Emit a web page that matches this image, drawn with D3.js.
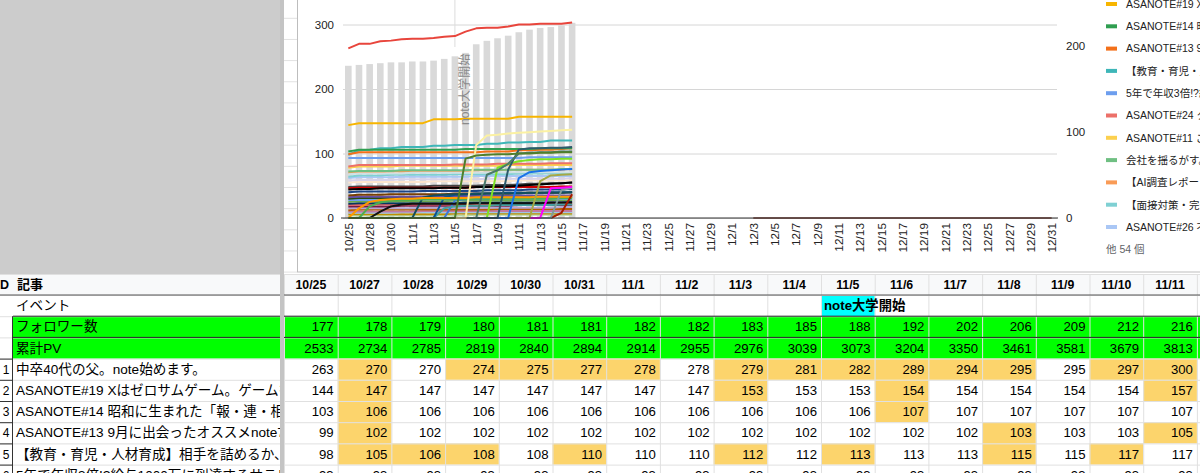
<!DOCTYPE html>
<html>
<head>
<meta charset="utf-8">
<script src="https://cdn.jsdelivr.net/npm/d3@7"></script>
<style>
body{margin:0;overflow:hidden;background:#fff}
svg{display:block;font-family:"Liberation Sans",Arial,"Noto Sans CJK JP",sans-serif}
</style>
</head>
<body>
<svg id="sheet" width="1200" height="473"></svg>
<script>

// categories of the chart (x axis)
var dates = ['10/25','10/27','10/28','10/29','10/30','10/31',
  '11/1','11/2','11/3','11/4','11/5','11/6','11/7','11/8','11/9','11/10',
  '11/11','11/12','11/13','11/14','11/15','11/16','11/17','11/18','11/19','11/20',
  '11/21','11/22','11/23','11/24','11/25','11/26','11/27','11/28','11/29','11/30',
  '12/1','12/2','12/3','12/4','12/5','12/6','12/7','12/8','12/9','12/10',
  '12/11','12/12','12/13','12/14','12/15','12/16','12/17','12/18','12/19','12/20',
  '12/21','12/22','12/23','12/24','12/25','12/26','12/27','12/28','12/29','12/30','12/31']

// follower count (grey bars, right axis)
var followers = [177,178,179,180,181,181,182,182,183,185,188,192,202,206,209,212,216,219,221,222,224,227]

// cumulative PV (table only)
var totalPV = [2533,2734,2785,2819,2840,2894,2914,2955,2976,3039,3073,3204,3350,3461,3581,3679,3813]

var events = [{date: '11/5', text: 'note大学開始'}]

var articleNames = [
  '中卒40代の父。note始めます。',
  'ASANOTE#19 Xはゼロサムゲーム。ゲームをしない',
  'ASANOTE#14 昭和に生まれた「報・連・相」',
  'ASANOTE#13 9月に出会ったオススメnote7選',
  '【教育・育児・人材育成】相手を詰めるか、',
  '5年で年収3倍!?給与1000万に到達するサラリーマン',
  'ASANOTE#24 ク',
  'ASANOTE#11 こ',
  '会社を揺るがす。',
  '【AI調査レポート',
  '【面接対策・完全',
  'ASANOTE#26 不'
]
var otherCount = 54

// page views per article, 10/25 .. 11/16
var mainPV = [
  [263,270,270,274,275,277,278,278,279,281,282,289,294,295,295,297,300,300,301,301,301,303],
  [144,147,147,147,147,147,147,147,153,153,153,154,154,154,154,154,157,157,157,157,157,157],
  [103,106,106,106,106,106,106,106,106,106,106,107,107,107,107,107,107,107,108,108,108,108],
  [99,102,102,102,102,102,102,102,102,102,102,102,102,103,103,103,105,105,106,106,107,108],
  [98,105,106,108,108,110,110,110,112,112,113,113,113,115,115,117,117,118,118,120,120,120],
  [93,93,93,93,93,93,93,93,93,93,93,93,93,93,93,93,93,94,94,94,94,94],
  [80,82,82,82,82,82,82,82,82,82,83,83,83,83,84,84,84,84,84,85,85,85],
  [78,80,80,80,80,81,81,81,81,81,81,81,81,81,81,82,82,82,82,82,82,82],
  [72,73,73,73,73,74,74,74,74,74,74,74,75,75,75,75,75,75,75,75,76,76],
  [70,71,71,71,72,72,72,72,72,73,73,73,74,74,74,75,75,75,75,75,75,76],
  [64,66,66,66,67,67,67,67,67,67,68,68,68,68,68,68,69,69,69,69,69,69],
  [62,63,63,63,63,64,64,64,64,64,64,64,65,65,65,65,65,65,65,65,65,65]
]
var mainColors = ['#e8453c','#f7b500','#2f9e50','#f3701a','#3eb6b8','#6d9eee',
  '#ec7069','#fcd04f','#6fbf82','#f99b56','#7fd0d3','#aac7f5']

var otherPV = [
  [0,0,0,0,0,0,0,0,0,0,0,92,97,98,99,99,100,100,101,101,102,102],
  [0,0,0,0,0,0,0,0,0,0,0,0,113,128,129,131,132,133,134,135,136,137],
  [0,0,0,0,0,0,0,0,0,0,0,0,0,67,74,84,100,101,102,102,103,103],
  [0,0,0,0,0,0,0,0,0,0,0,0,0,0,0,75,106,108,108,109,109,110],
  [0,0,0,0,0,0,0,0,0,0,0,0,0,0,78,84,88,90,91,91,92,92],
  [0,0,0,0,0,0,0,0,0,0,0,0,0,0,0,0,62,71,73,74,75,76],
  [0,0,0,0,0,0,0,0,0,0,0,0,0,0,0,0,0,0,57,66,67,68],
  [0,0,0,0,0,0,0,0,0,0,0,0,0,0,0,0,0,0,0,46,47,48],
  [0,0,0,0,0,0,0,0,0,0,0,0,0,0,0,0,0,0,0,0,43,47],
  [0,0,0,0,0,0,0,0,0,0,0,0,0,0,0,0,0,0,0,0,8,37],
  [0,15,25,28,29,30,30,31,31,31,31,31,32,32,32,32,32,32,33,33,33,33],
  [0,0,18,24,27,28,28,29,29,29,29,29,30,30,30,30,30,30,30,30,31,31],
  [0,0,0,10,18,21,22,22,22,22,22,22,23,23,23,23,23,23,23,24,24,24],
  [0,0,0,0,0,0,0,32,35,36,37,37,37,38,38,38,38,39,39,39,39,40],
  [0,0,0,0,0,0,0,0,0,32,36,37,38,38,38,39,39,39,39,40,40,40],
  [0,0,0,0,0,0,0,0,0,15,18,19,19,19,20,20,20,20,20,20,21,21],
  [0,0,0,0,0,0,0,0,0,0,27,29,30,30,30,31,31,31,31,31,32,32],
  [44,45,45,46,46,46,46,46,46,47,47,47,48,48,49,49,50,51,52,53,54,55],
  [46,47,47,47,47,47,47,47,47,47,47,47,48,48,48,48,48,48,48,48,49,49],
  [40,41,41,41,41,41,41,42,42,42,42,42,42,43,43,43,43,44,44,44,44,45],
  [35,36,36,36,37,37,37,37,37,37,38,38,38,38,38,38,39,39,39,39,39,40],
  [32,33,33,33,33,33,33,33,34,34,34,34,34,34,34,35,35,35,35,35,35,35],
  [30,31,31,31,31,31,31,31,31,32,32,32,32,32,32,32,32,33,33,33,33,33],
  [28,28,28,29,29,29,29,29,29,29,29,29,30,30,30,30,30,30,30,30,30,30],
  [25,26,26,26,26,26,26,26,26,26,27,27,27,27,27,27,27,27,27,28,28,28],
  [22,23,23,23,23,23,23,23,23,23,23,24,24,24,24,24,24,24,24,24,24,25],
  [20,20,20,21,21,21,21,21,21,21,21,21,21,21,22,22,22,22,22,22,22,22],
  [18,18,18,18,18,19,19,19,19,19,19,19,19,19,19,19,20,20,20,20,20,20],
  [15,15,15,15,15,15,15,16,16,16,16,16,16,16,16,16,16,16,16,16,17,17],
  [12,13,13,13,13,13,13,13,13,13,13,13,13,13,14,14,14,14,14,14,14,14],
  [10,10,10,10,10,10,10,11,11,11,11,11,11,11,11,11,11,11,11,11,11,11],
  [8,8,8,8,8,9,9,9,9,9,9,9,9,9,9,9,9,9,9,9,9,9],
  [6,6,6,6,6,6,6,6,6,6,7,7,7,7,7,7,7,7,7,7,7,7],
  [4,4,4,4,4,4,4,4,4,4,4,4,5,5,5,5,5,5,5,5,5,5],
  [48,49,49,49,49,49,49,49,50,50,50,50,50,51,51,51,52,53,53,54,54,55],
  [58,59,59,59,59,60,60,60,60,60,60,60,60,61,61,61,61,61,61,61,61,62],
  [55,56,56,56,56,56,56,56,57,57,57,57,57,57,57,57,58,58,58,58,58,58],
  [68,69,69,69,69,69,70,70,70,70,70,70,70,70,71,71,71,71,71,71,71,71]
]
var otherColors = ['#4f7f2a','#fbf1a3','#4a7a6a','#2c5a6b','#7ee024','#1a73e8','#a5a845',
  '#ff00ff','#7f9c9a','#a61c00','#ff9900','#4caf50','#111111','#134f5c','#0b5394','#45a1a0',
  '#3c78d8','#000000','#cc0000','#1c4587','#783f04','#674ea7','#274e13','#6d9eeb','#6aa84f',
  '#073763','#e06666','#741b47','#b4a7d6','#b45f06','#c27ba0','#9fc5e8','#bf9000','#b6d7a8',
  '#434343','#d9d2e9','#fce5cd','#d0e0e3']

// the last article is also filled with 0 from 12/3 to the end of the sheet
var tailDates = dates.slice(38)
var tailPV = [0,0,0,0,0,0,0,0,0,0,0,0,0,0,0,0,0,0,0,0,0,0,0,0,0,0,0,0,0]

var yLeftTicks = [0,100,200,300]
var yRightTicks = [0,100,200]


var svg = d3.select('#sheet')

// ---------- sheet behind the chart ----------
svg.append('rect').attr('x', 0).attr('y', 0).attr('width', 280).attr('height', 274).attr('fill', '#cccccc')
svg.append('g').selectAll('line').data(d3.range(13)).join('line')
  .attr('x1', 284).attr('x2', 297)
  .attr('y1', i => 18.3 + i*21.15).attr('y2', i => 18.3 + i*21.15)
  .attr('stroke', '#e2e2e2')

// ---------- chart ----------
var chart = svg.append('g')
chart.append('rect').attr('x', 297.5).attr('y', -5).attr('width', 910).attr('height', 277)
  .attr('fill', '#fff').attr('stroke', '#bdbdbd')

var x = d3.scalePoint().domain(dates).range([343, 1057]).padding(0.5)
var yL = d3.scaleLinear().domain([0, 400]).range([218, -40])
var yR = d3.scaleLinear().domain([0, 300]).range([218, -40])

var leftAxis = chart.append('g').attr('transform', 'translate(343,0)')
  .call(d3.axisLeft(yL).tickValues(yLeftTicks).tickSizeInner(-714).tickSizeOuter(0).tickPadding(9))
leftAxis.select('.domain').remove()
leftAxis.selectAll('line').attr('stroke', '#d6d6d6')
leftAxis.selectAll('text').attr('fill', '#222').attr('font-size', 11.5)
  .attr('font-family', '"Liberation Sans",Arial,sans-serif')

var rightAxis = chart.append('g').attr('transform', 'translate(1057,0)')
  .call(d3.axisRight(yR).tickValues(yRightTicks).tickSize(0).tickPadding(9))
rightAxis.select('.domain').remove()
rightAxis.selectAll('text').attr('fill', '#222').attr('font-size', 11.5)
  .attr('font-family', '"Liberation Sans",Arial,sans-serif')

// annotation line for the event
events.forEach(function(ev){
  chart.append('line').attr('x1', x(ev.date)).attr('x2', x(ev.date))
    .attr('y1', -5).attr('y2', 47).attr('stroke', '#dcdcdc')
})

var barW = x.step()*0.62
chart.append('g').selectAll('rect').data(followers).join('rect')
  .attr('x', (d, i) => x(dates[i]) - barW/2)
  .attr('width', barW)
  .attr('y', d => yR(d))
  .attr('height', d => yR(0) - yR(d))
  .attr('fill', '#d9d9d9')

var line = d3.line().x((d, i) => x(dates[i])).y(d => yL(d))

// later series are drawn on top, so the newest articles end up in front
var linesG = chart.append('g').attr('fill', 'none').attr('stroke-width', 2)
  .attr('stroke-linejoin', 'round')
linesG.selectAll('path.main').data(mainPV.slice().reverse()).join('path').attr('class', 'main')
  .attr('d', line).attr('stroke', (d, i) => mainColors[mainPV.length - 1 - i])
linesG.selectAll('path.other').data(otherPV.slice().reverse()).join('path').attr('class', 'other')
  .attr('d', line).attr('stroke', (d, i) => otherColors[otherPV.length - 1 - i])

// baseline
chart.append('line').attr('x1', 341).attr('x2', 1058).attr('y1', yL(0)).attr('y2', yL(0))
  .attr('stroke', '#333').attr('stroke-width', 1.2)

linesG.append('path').datum(tailPV)
  .attr('d', d3.line().x((d, i) => x(tailDates[i])).y(d => yL(d)))
  .attr('stroke', '#7d3a30').attr('stroke-width', 1.6)

events.forEach(function(ev){
  chart.append('text')
    .attr('transform', 'translate(' + (x(ev.date) + 14) + ',125) rotate(-90)')
    .attr('font-size', 12).attr('fill', '#8a8a8a')
    .text(ev.text)
})

var xAxis = chart.append('g').attr('transform', 'translate(0,' + yL(0) + ')')
  .call(d3.axisBottom(x).tickValues(dates.filter((d, i) => i % 2 == 0)).tickSize(0))
xAxis.select('.domain').remove()
xAxis.selectAll('text')
  .attr('transform', 'rotate(-90)')
  .attr('text-anchor', 'end')
  .attr('x', -5).attr('y', 0).attr('dy', '0.34em')
  .attr('fill', '#222').attr('font-size', 11.8)
  .attr('font-family', '"Liberation Sans",Arial,sans-serif')

// legend
var legendItems = articleNames.map((d, i) => ({name: d, color: mainColors[i]}))
var legend = chart.append('g').attr('transform', 'translate(1106,0)')
var legendRow = legend.selectAll('g').data(legendItems).join('g')
  .attr('transform', (d, i) => 'translate(0,' + (-18.3 + i*22.3) + ')')
legendRow.append('rect').attr('x', 0).attr('y', -2).attr('width', 11).attr('height', 4)
  .attr('fill', d => d.color)
legendRow.append('text').attr('x', 20).attr('y', 3.8).attr('font-size', 10.5)
  .attr('fill', '#222').text(d => d.name)
legend.append('text').attr('x', 0).attr('y', -18.3 + legendItems.length*22.3 + 3.8)
  .attr('font-size', 10.5).attr('fill', '#5f6368').text('他 ' + otherCount + ' 個')


// ---------- table ----------
var tableDates = dates.slice(0, 17)
var colW = 53.7, col0 = 284, rowH = 21.2, headTop = 274, headH = 21
function colX(j){ return col0 + j*colW }
function rowTop(r){ return headTop + headH + r*rowH }

var tableRows = [
  {label: 'イベント', values: []},
  {label: 'フォロワー数', values: followers.slice(0, 17), green: true},
  {label: '累計PV', values: totalPV, green: true}
].concat(mainPV.slice(0, 6).map((v, i) => ({num: i + 1, label: articleNames[i], values: v.slice(0, 17), mark: true})))

var table = svg.append('g')
table.append('rect').attr('x', 0).attr('y', headTop).attr('width', 1200).attr('height', headH).attr('fill', '#f8f9fa')
table.append('rect').attr('x', 0).attr('y', rowTop(0)).attr('width', 1200).attr('height', 473 - rowTop(0)).attr('fill', '#fff')

tableRows.forEach(function(row, r){
  if (row.green){
    table.append('rect').attr('x', 13).attr('y', rowTop(r)).attr('width', 1187).attr('height', rowH).attr('fill', '#00ff00')
  }
  if (row.mark){
    table.append('g').selectAll('rect').data(row.values.map((v, j) => ({v, j})).filter(d => d.j > 0 && d.v > row.values[d.j - 1]))
      .join('rect')
      .attr('x', d => colX(d.j)).attr('y', rowTop(r))
      .attr('width', colW).attr('height', rowH).attr('fill', '#fcd46c')
  }
})

events.forEach(function(ev){
  var j = tableDates.indexOf(ev.date)
  table.append('rect').attr('x', colX(j)).attr('y', rowTop(0)).attr('width', colW).attr('height', rowH).attr('fill', '#00ffff')
})

// gridlines
var gridG = table.append('g').attr('stroke', '#e0e0e0')
gridG.selectAll('line.v').data(d3.range(18)).join('line').attr('class', 'v')
  .attr('x1', j => colX(j) + 0.5).attr('x2', j => colX(j) + 0.5)
  .attr('y1', headTop).attr('y2', 473)
gridG.selectAll('line.h').data(d3.range(tableRows.length + 1)).join('line').attr('class', 'h')
  .attr('x1', 0).attr('x2', 1200)
  .attr('y1', r => rowTop(r) + 0.5).attr('y2', r => rowTop(r) + 0.5)
gridG.append('line').attr('x1', 0).attr('x2', 1200).attr('y1', headTop + 0.5).attr('y2', headTop + 0.5)

table.append('line').attr('x1', 0).attr('x2', 1200).attr('y1', rowTop(0)).attr('y2', rowTop(0))
  .attr('stroke', '#555').attr('stroke-width', 1.2)
;[1, 2].forEach(function(r){
  table.append('line').attr('x1', 13).attr('x2', 1200).attr('y1', rowTop(r)).attr('y2', rowTop(r))
    .attr('stroke', '#222').attr('stroke-width', 1)
})
table.append('line').attr('x1', 12.5).attr('x2', 12.5).attr('y1', rowTop(1)).attr('y2', 473)
  .attr('stroke', '#333')
table.append('g').selectAll('line').data(d3.range(3, tableRows.length + 1)).join('line')
  .attr('x1', 0).attr('x2', 12.5).attr('y1', r => rowTop(r) + 0.5).attr('y2', r => rowTop(r) + 0.5)
  .attr('stroke', '#333')

// frozen column divider
svg.append('rect').attr('x', 280).attr('y', 0).attr('width', 4).attr('height', 473).attr('fill', '#c4c4c4')

// header text
table.append('g').selectAll('text').data(tableDates).join('text')
  .attr('x', (d, j) => colX(j) + colW/2).attr('y', headTop + headH/2 + 4.5)
  .attr('text-anchor', 'middle').attr('font-size', 12.3).attr('font-weight', 'bold')
  .text(d => d)
table.append('text').attr('x', 0).attr('y', headTop + headH/2 + 4.5)
  .attr('font-size', 12.5).attr('font-weight', 'bold').text('D')
table.append('text').attr('x', 17).attr('y', headTop + headH/2 + 4.5)
  .attr('font-size', 13).attr('font-weight', 'bold').text('記事')

svg.append('clipPath').attr('id', 'labelClip').append('rect')
  .attr('x', 13).attr('y', 270).attr('width', 267).attr('height', 210)

tableRows.forEach(function(row, r){
  var cy = rowTop(r) + rowH/2 + 4.6
  if (row.num){
    table.append('text').attr('x', 6).attr('y', cy).attr('text-anchor', 'middle')
      .attr('font-size', 12).text(row.num)
  }
  table.append('text').attr('x', 16).attr('y', cy).attr('font-size', 13.6)
    .attr('clip-path', 'url(#labelClip)').text(row.label)
  table.append('g').selectAll('text').data(row.values).join('text')
    .attr('x', (d, j) => colX(j) + colW - 4).attr('y', cy)
    .attr('text-anchor', 'end').attr('font-size', 13.2)
    .text(d => d)
})

events.forEach(function(ev){
  var j = tableDates.indexOf(ev.date)
  table.append('text').attr('x', colX(j) + 3).attr('y', rowTop(0) + rowH/2 + 4.6)
    .attr('font-size', 13.3).attr('font-weight', 'bold').text(ev.text)
})

</script>
</body>
</html>
